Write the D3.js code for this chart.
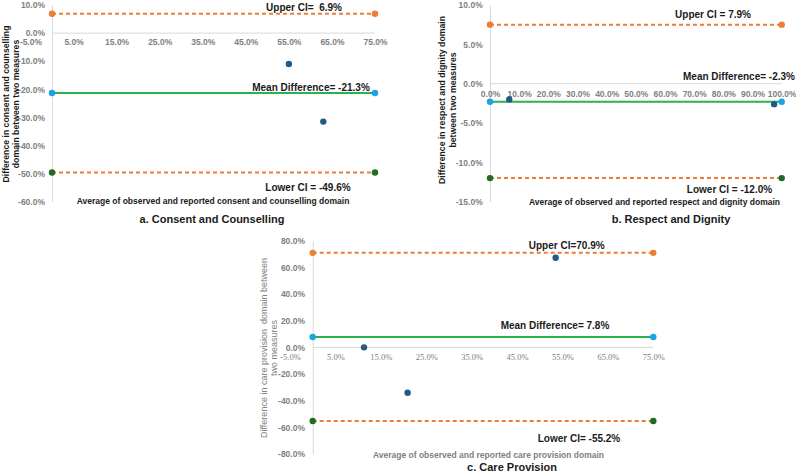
<!DOCTYPE html>
<html>
<head>
<meta charset="utf-8">
<script src="https://cdn.jsdelivr.net/npm/d3@7"></script>
<style>
  body { margin: 0; background: #fff; }
  svg { display: block; font-family: "Liberation Sans", Arial, sans-serif; }
  svg text { white-space: pre; }
</style>
</head>
<body>
<svg id="chart" width="796" height="475"></svg>
<script>
// values (percent)
const aPointsX = [55, 63];
const aPointsY = [-11, -31.5];
const aLimits = [6.9, -21.3, -49.6];          // upper, mean, lower
const aLineX = [0, 75];
const aYTicks = [10, 0, -10, -20, -30, -40, -50, -60];
const aXTicks = [-5, 5, 15, 25, 35, 45, 55, 65, 75];
const aLabels = ["Upper CI=  6.9%", "Mean Difference= -21.3%", "Lower CI = -49.6%"];

const bPointsX = [6.6, 97.4];
const bPointsY = [-2.0, -2.6];
const bLimits = [7.5, -2.3, -12.0];
const bLineX = [0, 100];
const bYTicks = [10, 5, 0, -5, -10, -15];
const bXTicks = [0, 10, 20, 30, 40, 50, 60, 70, 80, 90, 100];
const bLabels = ["Upper CI = 7.9%", "Mean Difference= -2.3%", "Lower CI = -12.0%"];

const cPointsX = [11.3, 20.9, 53.5];
const cPointsY = [0, -34, 67.2];
const cLimits = [70.9, 7.8, -55.2];
const cLineX = [0, 75];
const cYTicks = [80, 60, 40, 20, 0, -20, -40, -60, -80];
const cXTicks = [-5, 5, 15, 25, 35, 45, 55, 65, 75];
const cLabels = ["Upper CI=70.9%", "Mean Difference= 7.8%", "Lower CI= -55.2%"];

const orange = "#ED7D31";
const meanGreen = "#2BB24C";
const meanDot = "#1BA3E6";
const lowerDot = "#1E6B22";
const pointCol = "#1F5C85";
const tickGrey = "#808080";
const axisGrey = "#d9d9d9";

const svg = d3.select("#chart");
const fmt = d => d.toFixed(1) + "%";

function drawPanel(p) {
    const g = svg.append("g");
    const x = d3.scaleLinear().domain(p.xDomain).range(p.xRange);
    const y = d3.scaleLinear().domain(p.yDomain).range(p.yRange);

    // y axis (line + labels)
    const yAxis = g.append("g")
        .attr("transform", `translate(${x(0)},0)`)
        .call(d3.axisLeft(y).tickValues(p.yTicks).tickFormat(fmt).tickSize(0).tickSizeOuter(0).tickPadding(x(0) - p.yLabelRight));
    yAxis.select(".domain").attr("stroke", axisGrey).attr("stroke-width", 1);
    yAxis.selectAll("text")
        .attr("fill", tickGrey)
        .attr("font-size", 8.5)
        .attr("font-weight", "bold")
        .attr("font-family", "Liberation Sans, Arial, sans-serif");

    // horizontal zero line
    g.append("line")
        .attr("x1", x(0)).attr("x2", x(p.xDomain[1]))
        .attr("y1", y(0)).attr("y2", y(0))
        .attr("stroke", axisGrey).attr("stroke-width", 1);

    // x axis labels just under the zero line
    const xAxis = g.append("g")
        .attr("transform", `translate(0,${y(0)})`)
        .call(d3.axisBottom(x).tickValues(p.xTicks).tickFormat(fmt).tickSize(0).tickPadding(p.xPad));
    xAxis.select(".domain").remove();
    xAxis.selectAll("text")
        .attr("fill", tickGrey)
        .attr("font-size", 8.5)
        .attr("font-weight", p.serifX ? "normal" : "bold")
        .attr("font-family", p.serifX ? "Liberation Serif, Times New Roman, serif" : "Liberation Sans, Arial, sans-serif");

    // limit lines
    const kinds = ["upper", "mean", "lower"];
    p.limits.forEach((v, i) => {
        const k = kinds[i];
        g.append("line")
            .attr("x1", x(p.lineX[0])).attr("x2", x(p.lineX[1]))
            .attr("y1", y(v)).attr("y2", y(v))
            .attr("stroke", k === "mean" ? meanGreen : orange)
            .attr("stroke-width", 2)
            .attr("stroke-dasharray", k === "mean" ? null : "4,3");
        const col = k === "upper" ? orange : (k === "mean" ? meanDot : lowerDot);
        g.selectAll(null)
            .data(p.lineX)
            .enter()
            .append("circle")
            .attr("cx", d => x(d))
            .attr("cy", y(v))
            .attr("r", 3.2)
            .attr("fill", col);
    });

    // scatter points
    g.selectAll(null)
        .data(p.px.map((d, i) => [d, p.py[i]]))
        .enter()
        .append("circle")
        .attr("cx", d => x(d[0]))
        .attr("cy", d => y(d[1]))
        .attr("r", 3.2)
        .attr("fill", pointCol);

    // annotation labels
    p.labels.forEach((t, i) => {
        g.append("text")
            .attr("x", p.labelPos[i][0])
            .attr("y", p.labelPos[i][1])
            .attr("text-anchor", "middle")
            .attr("dominant-baseline", "central")
            .attr("font-size", 10)
            .attr("font-weight", "bold")
            .attr("fill", "#1a1a1a")
            .text(t);
    });

    // x axis title
    g.append("text")
        .attr("x", p.xTitlePos[0]).attr("y", p.xTitlePos[1])
        .attr("text-anchor", "middle")
        .attr("dominant-baseline", "central")
        .attr("font-size", 8.5)
        .attr("font-weight", "bold")
        .attr("fill", p.greyTitles ? tickGrey : "#1a1a1a")
        .text(p.xTitle);

    // y axis title, two lines rotated
    p.yTitle.forEach((t, i) => {
        g.append("text")
            .attr("transform", `translate(${p.yTitleX[i]},${p.yTitleY}) rotate(-90)`)
            .attr("text-anchor", "middle")
            .attr("dominant-baseline", "central")
            .attr("font-size", p.greyTitles ? 9 : 8.7)
            .attr("font-weight", p.greyTitles ? "normal" : "bold")
            .attr("fill", p.greyTitles ? tickGrey : "#1a1a1a")
            .text(t);
    });

    // panel caption
    g.append("text")
        .attr("x", p.captionPos[0]).attr("y", p.captionPos[1])
        .attr("text-anchor", "middle")
        .attr("dominant-baseline", "central")
        .attr("font-size", 11)
        .attr("font-weight", "bold")
        .attr("fill", "#1a1a1a")
        .text(p.caption);
}

drawPanel({
    xDomain: [-5, 75], xRange: [30.5, 375],
    yDomain: [10, -60], yRange: [5, 201.7],
    yTicks: aYTicks, xTicks: aXTicks, yLabelRight: 45, xPad: 6,
    px: aPointsX, py: aPointsY, limits: aLimits, lineX: aLineX,
    labels: aLabels, labelPos: [[304, 7.5], [311, 87], [308, 187]],
    xTitle: "Average of observed and reported consent and counselling domain", xTitlePos: [213, 201],
    yTitle: ["Difference in consent and counselling", "domain between two measures"], yTitleX: [6, 16], yTitleY: 104,
    caption: "a. Consent and Counselling", captionPos: [212, 219]
});

drawPanel({
    xDomain: [0, 100], xRange: [490, 781.7],
    yDomain: [10, -15], yRange: [5, 201.7],
    yTicks: bYTicks, xTicks: bXTicks, yLabelRight: 482.7, xPad: 7,
    px: bPointsX, py: bPointsY, limits: bLimits, lineX: bLineX,
    labels: bLabels, labelPos: [[713, 14], [739, 76.7], [729.5, 189]],
    xTitle: "Average of observed and reported respect and dignity domain", xTitlePos: [654.5, 202],
    yTitle: ["Difference in respect and dignity domain", "between two measures"], yTitleX: [441.5, 452.5], yTitleY: 100,
    caption: "b. Respect and Dignity", captionPos: [671, 219]
});

drawPanel({
    xDomain: [-5, 75], xRange: [290, 653.3],
    yDomain: [80, -80], yRange: [240.7, 454],
    yTicks: cYTicks, xTicks: cXTicks, yLabelRight: 305, xPad: 7,
    px: cPointsX, py: cPointsY, limits: cLimits, lineX: cLineX, serifX: true, greyTitles: true,
    labels: cLabels, labelPos: [[566.7, 245.7], [555, 325], [579, 438]],
    xTitle: "Average of observed and reported care provision domain", xTitlePos: [488.5, 455],
    yTitle: ["Difference in care provision  domain between", "two measures"], yTitleX: [263.5, 274], yTitleY: 348,
    caption: "c. Care Provision", captionPos: [512, 466.5]
});
</script>
</body>
</html>
